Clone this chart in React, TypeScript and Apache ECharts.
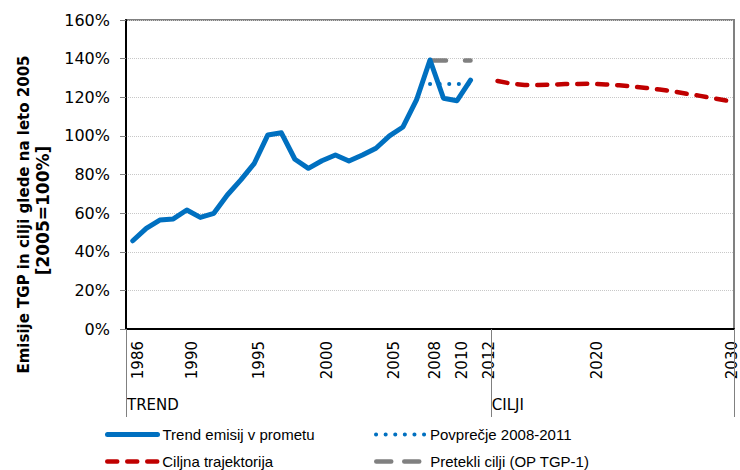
import React, { useEffect, useRef } from "react";
import * as echarts from "echarts";

const categories = [
  "1986", "1987", "1988", "1989", "1990", "1991", "1992", "1993", "1994", "1995",
  "1996", "1997", "1998", "1999", "2000", "2001", "2002", "2003", "2004", "2005",
  "2006", "2007", "2008", "2009", "2010", "2011", "2012", "2013", "2014", "2015",
  "2016", "2017", "2018", "2019", "2020", "2021", "2022", "2023", "2024", "2025",
  "2026", "2027", "2028", "2029", "2030",
];
const labeledYears = ["1986", "1990", "1995", "2000", "2005", "2008", "2010", "2012", "2020", "2030"];

const trendYears = [
  "1986", "1987", "1988", "1989", "1990", "1991", "1992", "1993", "1994", "1995",
  "1996", "1997", "1998", "1999", "2000", "2001", "2002", "2003", "2004", "2005",
  "2006", "2007", "2008", "2009", "2010", "2011",
];
const trendValues = [
  45.7, 52.1, 56.4, 57.0, 61.6, 57.8, 59.9, 69.4, 77.2, 85.8,
  100.5, 101.6, 87.9, 83.2, 87.1, 90.1, 87.0, 90.1, 93.6, 100.0,
  104.6, 118.6, 139.3, 119.5, 118.2, 128.9,
];

const averageYears = ["2008", "2009", "2010", "2011"];
const averageValues = [126.9, 126.9, 126.9, 126.9];

const pastTargetYears = ["2008", "2009", "2010", "2011"];
const pastTargetValues = [139, 139, 139, 139];

const targetYears = [
  "2013", "2014", "2015", "2016", "2017", "2018", "2019", "2020", "2021",
  "2022", "2023", "2024", "2025", "2026", "2027", "2028", "2029", "2030",
];
const targetValues = [
  128.4, 127.1, 126.4, 126.4, 126.5, 126.8, 126.9, 127.0, 126.6,
  126.2, 125.6, 124.8, 124.0, 123.0, 121.8, 120.7, 119.4, 118.2,
];

const yTicks = [0, 20, 40, 60, 80, 100, 120, 140, 160];

const groupLabels = ["TREND", "CILJI"];
const groupStarts = ["1986", "2013"];

const seriesNames = [
  "Trend emisij v prometu",
  "Povprečje 2008-2011",
  "Ciljna trajektorija",
  "Pretekli cilji (OP TGP-1)",
];

const pair = (xs: string[], vs: number[]) => xs.map((x, i) => [x, vs[i]]);

const FONT = "DejaVu Sans";
const LEGEND_FONT = "Liberation Sans";

const BLUE = "#0070C0";
const RED = "#C00000";
const GREY = "#808080";

const trendStyle = { color: BLUE, width: 5, type: "solid", cap: "round", join: "round" };
const avgStyle = { color: BLUE, width: 4, type: [0.1, 9.5], cap: "round" };
const targetStyle = { color: RED, width: 4.5, type: [10, 10], cap: "round" };
const pastStyle = { color: GREY, width: 4.5, type: [16, 19], cap: "round" };

const legendItem = (name: string, left: number, top: number, itemWidth: number, lineStyle: any) => ({
  data: [name],
  orient: "horizontal",
  left,
  top,
  padding: 0,
  itemWidth,
  itemHeight: 14,
  itemStyle: { opacity: 0 },
  lineStyle: { ...lineStyle, type: name === seriesNames[3] ? [15, 13] : lineStyle.type },
  textStyle: { fontFamily: LEGEND_FONT, fontSize: 15, color: "#000" },
});

export default function App() {
  const ref = useRef<HTMLDivElement>(null);
  useEffect(() => {
    if (!ref.current) return;
    const chart = echarts.init(ref.current, undefined, { renderer: "svg" });
    const option: any = {
      animation: false,
      backgroundColor: "#ffffff",
      grid: {
        left: 126,
        top: 20,
        width: 608,
        height: 309,
        show: true,
        borderColor: GREY,
        borderWidth: 2,
        containLabel: false,
      },
      xAxis: {
        type: "category",
        data: categories,
        boundaryGap: true,
        axisLine: { show: true, lineStyle: { color: "#000", width: 2 } },
        axisTick: { show: false },
        splitLine: { show: false },
        axisLabel: {
          rotate: 90,
          interval: (_i: number, v: string) => labeledYears.includes(v),
          fontFamily: FONT,
          fontSize: 15,
          color: "#000",
          margin: 12,
          verticalAlign: "top",
          lineHeight: 10,
        },
      },
      yAxis: {
        type: "value",
        min: yTicks[0],
        max: yTicks[yTicks.length - 1],
        interval: 20,
        axisLine: { show: true, lineStyle: { color: "#000", width: 2 } },
        axisTick: { show: true, length: 6, lineStyle: { color: GREY, width: 1 } },
        axisLabel: {
          formatter: "{value}%",
          fontFamily: FONT,
          fontSize: 16,
          color: "#000",
          margin: 16,
        },
        splitLine: { show: true, lineStyle: { color: "#c8c8c8", type: "dotted", width: 1 } },
      },
      legend: [
        legendItem(seriesNames[0], 105, 427, 50, trendStyle),
        legendItem(seriesNames[2], 105, 454, 50, targetStyle),
        legendItem(seriesNames[1], 374, 427, 49, avgStyle),
        legendItem(seriesNames[3], 374, 454, 49, pastStyle),
      ],
      series: [
        {
          name: seriesNames[0],
          type: "line",
          data: pair(trendYears, trendValues),
          symbol: "none",
          lineStyle: trendStyle,
          itemStyle: { color: BLUE },
          z: 3,
        },
        {
          name: seriesNames[1],
          type: "line",
          data: pair(averageYears, averageValues),
          symbol: "none",
          lineStyle: avgStyle,
          itemStyle: { color: BLUE },
          z: 2,
        },
        {
          name: seriesNames[2],
          type: "line",
          data: pair(targetYears, targetValues),
          symbol: "none",
          lineStyle: targetStyle,
          itemStyle: { color: RED },
          z: 2,
        },
        {
          name: seriesNames[3],
          type: "line",
          data: pair(pastTargetYears, pastTargetValues),
          symbol: "none",
          lineStyle: pastStyle,
          itemStyle: { color: GREY },
          z: 2,
        },
      ],
    };
    chart.setOption(option);

    const p0 = chart.convertToPixel({ xAxisIndex: 0 }, categories[0]) as number;
    const p1 = chart.convertToPixel({ xAxisIndex: 0 }, categories[1]) as number;
    const band = p1 - p0;
    const yBase = chart.convertToPixel({ yAxisIndex: 0 }, 0) as number;
    const yTop = chart.convertToPixel({ yAxisIndex: 0 }, yTicks[yTicks.length - 1]) as number;
    const boundaries = [
      ...groupStarts.map((c) => (chart.convertToPixel({ xAxisIndex: 0 }, c) as number) - band / 2),
      (chart.convertToPixel({ xAxisIndex: 0 }, categories[categories.length - 1]) as number) + band / 2,
    ];
    const midY = (yBase + yTop) / 2 + 40;
    chart.setOption({
      graphic: [
        ...boundaries.map((bx) => ({
          type: "line",
          shape: { x1: Math.round(bx) + 0.5, y1: yBase, x2: Math.round(bx) + 0.5, y2: yBase + 88 },
          style: { stroke: GREY, lineWidth: 1 },
          z: 1,
        })),
        ...groupStarts.map((c, i) => ({
          type: "text",
          x: (chart.convertToPixel({ xAxisIndex: 0 }, c) as number) - band / 2 + 1,
          y: yBase + 76,
          style: { text: groupLabels[i], font: `15px '${FONT}'`, fill: "#000", textVerticalAlign: "middle" },
        })),
        {
          type: "text",
          x: 24,
          y: midY,
          rotation: Math.PI / 2,
          style: {
            text: "Emisije TGP in cilji glede na leto 2005",
            font: `bold 15px '${FONT}'`,
            fill: "#000",
            textAlign: "center",
            textVerticalAlign: "middle",
          },
        },
        {
          type: "text",
          x: 43,
          y: midY - 4,
          rotation: Math.PI / 2,
          style: {
            text: "[2005=100%]",
            font: `bold 17px '${FONT}'`,
            fill: "#000",
            textAlign: "center",
            textVerticalAlign: "middle",
          },
        },
      ],
    });

    return () => chart.dispose();
  }, []);
  return <div ref={ref} style={{ width: 740, height: 470, position: "absolute", left: 0, top: 0 }} />;
}
